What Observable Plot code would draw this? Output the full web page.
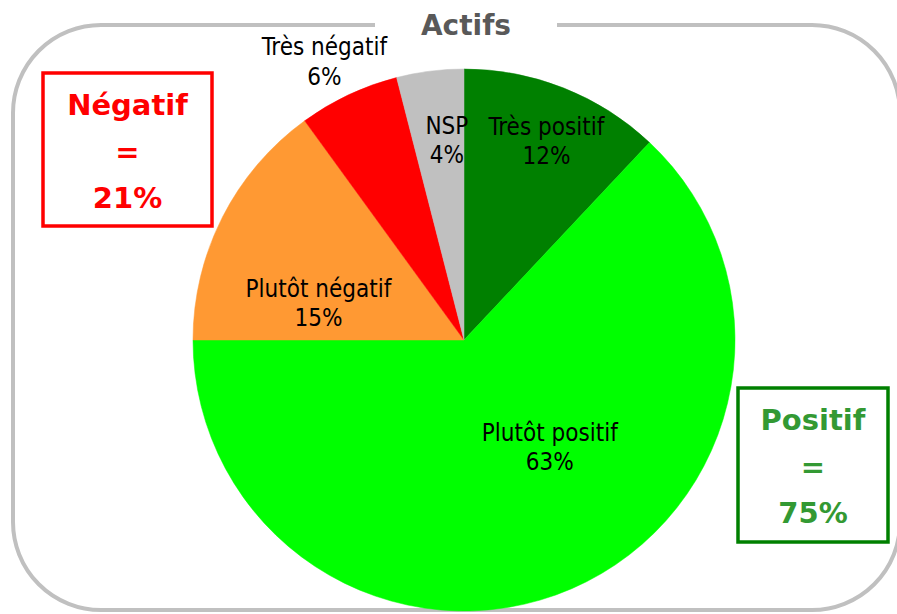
<!DOCTYPE html>
<html>
<head>
<meta charset="utf-8">
<script src="https://cdn.jsdelivr.net/npm/d3@7"></script>
<script src="https://cdn.jsdelivr.net/npm/@observablehq/plot@0.6"></script>
<style>
  html, body { margin: 0; padding: 0; background: #ffffff; }
  #chart svg { display: block; }
</style>
</head>
<body>
<div id="chart"></div>
<script>
// ---- data ----
const title = "Actifs";
const categories = ["Très positif", "Plutôt positif", "Plutôt négatif", "Très négatif", "NSP"];
const values = [12, 63, 15, 6, 4];
const colors = ["#008000", "#00ff00", "#ff9933", "#ff0000", "#c0c0c0"];
const positiveGroup = ["Très positif", "Plutôt positif"];
const negativeGroup = ["Plutôt négatif", "Très négatif"];
const positiveTitle = "Positif";
const negativeTitle = "Négatif";

// ---- layout (label placement: angle in degrees clockwise from 12 o'clock, radius as fraction of pie radius) ----
const labelAngles = [22.2, 141, 284.6, 333.4, 355];
const labelRadii = [0.80, 0.50, 0.557, 1.155, 0.745];
const W = 897, H = 614;
const cx = 464, cy = 340, R = 271;

const slices = categories.map((c, i) => ({
  category: c,
  value: values[i],
  color: colors[i],
  label: `${c}\n${values[i]}%`,
  lx: Math.sin(labelAngles[i] * Math.PI / 180) * labelRadii[i],
  ly: Math.cos(labelAngles[i] * Math.PI / 180) * labelRadii[i]
}));
const posTotal = d3.sum(slices.filter(d => positiveGroup.includes(d.category)), d => d.value);
const negTotal = d3.sum(slices.filter(d => negativeGroup.includes(d.category)), d => d.value);

// pie drawn with the plot's x/y scales
function pieMark(index, scales) {
  const x0 = scales.x(0), y0 = scales.y(0);
  const r = scales.x(1) - scales.x(0);
  const arcs = d3.pie().sort(null).value(d => d.value)(slices);
  const arc = d3.arc().innerRadius(0).outerRadius(r);
  const g = d3.create("svg:g").attr("transform", `translate(${x0},${y0})`);
  g.selectAll("path").data(arcs).join("path")
    .attr("d", arc)
    .attr("fill", d => d.data.color)
    .attr("stroke", d => d.data.color)
    .attr("stroke-width", 0.5);
  return g.node();
}

function frameMark() {
  const g = d3.create("svg:g");
  g.append("rect")
    .attr("x", 13).attr("y", 25).attr("width", 887).attr("height", 585)
    .attr("rx", 88).attr("ry", 88)
    .attr("fill", "none").attr("stroke", "#c0c0c0").attr("stroke-width", 4);
  g.append("rect").attr("x", 375).attr("y", 15).attr("width", 182).attr("height", 22).attr("fill", "#ffffff");
  g.append("text")
    .attr("x", 466).attr("y", 25).attr("dy", "0.36em")
    .attr("text-anchor", "middle")
    .attr("font-family", "DejaVu Sans, Verdana, sans-serif")
    .attr("font-weight", "bold").attr("font-size", 28)
    .attr("fill", "#595959")
    .text(title);
  return g.node();
}

function boxMark(bx, by, bw, bh, stroke, textColor, lines) {
  return () => {
    const g = d3.create("svg:g");
    g.append("rect")
      .attr("x", bx).attr("y", by).attr("width", bw).attr("height", bh)
      .attr("fill", "#ffffff").attr("stroke", stroke).attr("stroke-width", 3.5);
    lines.forEach((t, i) => {
      g.append("text")
        .attr("x", bx + bw / 2).attr("y", by + 32 + i * 46.5).attr("dy", "0.36em")
        .attr("text-anchor", "middle")
        .attr("font-family", "DejaVu Sans, Verdana, sans-serif")
        .attr("font-weight", "bold").attr("font-size", 29)
        .attr("fill", textColor)
        .text(t);
    });
    return g.node();
  };
}

const chart = Plot.plot({
  width: W,
  height: H,
  margin: 0,
  x: { domain: [-cx / R, (W - cx) / R], range: [0, W], axis: null },
  y: { domain: [-(H - cy) / R, cy / R], range: [H, 0], axis: null },
  style: { background: "#ffffff", overflow: "visible" },
  marks: [
    frameMark,
    pieMark,
    Plot.text(slices, {
      x: "lx", y: "ly", text: "label",
      lineAnchor: "middle", lineHeight: 1.22,
      fontSize: 24, fill: "#000000",
      fontFamily: "DejaVu Sans Condensed, DejaVu Sans, sans-serif"
    }),
    boxMark(43, 73, 169, 153, "#ff0000", "#ff0000", [negativeTitle, "=", `${negTotal}%`]),
    boxMark(738, 388, 150, 154, "#008000", "#339933", [positiveTitle, "=", `${posTotal}%`])
  ]
});
document.getElementById("chart").appendChild(chart);
</script>
</body>
</html>
